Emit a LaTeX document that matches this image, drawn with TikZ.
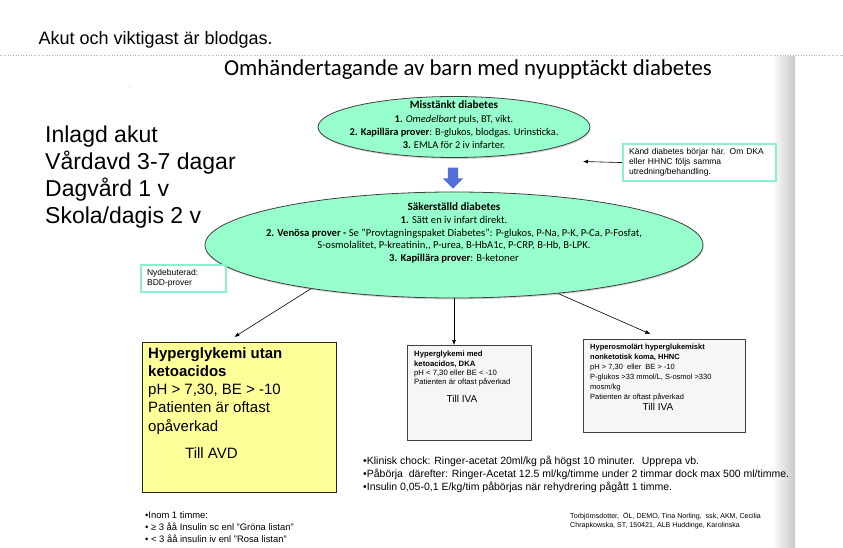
\documentclass[tikz,border=0pt]{standalone}
\usepackage{fontspec}
\setmainfont{Liberation Sans}
\newfontfamily\slidefont{Carlito}
\usetikzlibrary{shapes.geometric,shapes.arrows,arrows.meta,shadows}
\definecolor{mint}{RGB}{150,255,204}
\definecolor{mintline}{RGB}{140,240,200}
\definecolor{padyellow}{RGB}{255,255,153}
\definecolor{arrowblue}{RGB}{84,112,216}

\begin{document}
\begin{tikzpicture}[x=1pt,y=-1pt,
  oval/.style={ellipse,draw=black!75,fill=mint,line width=0.8pt,inner sep=0pt,
    drop shadow={opacity=0.35,shadow xshift=0.6pt,shadow yshift=-1.4pt}},
  notebox/.style={draw=mintline,line width=2.2pt,inner xsep=6pt,inner ysep=4.5pt,align=left,anchor=north west},
  casebox/.style={draw=black!75,fill=gray!7,line width=0.7pt,anchor=north west,inner sep=0pt},
  txt/.style={anchor=north west,align=left,inner sep=0pt},
  conn/.style={-{Latex[length=5pt,width=4pt]},line width=0.6pt}]
  \useasboundingbox (0,0) rectangle (843,548);
  \shade[left color=white,right color=black!22] (772,57) rectangle (795,548);
  \draw[gray!60,dotted,line width=0.6pt] (0,55) -- (843,55);
  \fill[gray] (130,87) circle (0.5);

  \node[anchor=west,font=\fontsize{18}{21}\selectfont] (intro) at (35,40) {Akut och viktigast är blodgas.};
  \node[font=\slidefont\fontsize{22.8}{26}\selectfont] (title) at (468,70) {Omhändertagande av barn med nyupptäckt diabetes};

  % vardtider
  \node[txt,font=\fontsize{23}{27}\selectfont] (stay) at (45,126)
    {Inlagd akut\\ Vårdavd 3-7 dagar\\ Dagvård 1 v\\ Skola/dagis 2 v};

  % misstankt och sakerstalld
  \node[oval,minimum width=272pt,minimum height=61pt] (suspected) at (454,127) {};
  \node[align=center,font=\slidefont\fontsize{10.4}{13.3}\selectfont] (suspectedtxt) at (454,125)
    {{\bfseries\fontsize{11.2}{13.3}\selectfont Misstänkt diabetes}\\
     \textbf{1.} \textit{Omedelbart} puls, BT, vikt.\\
     \textbf{2. Kapillära prover}: B-glukos, blodgas. Urinsticka.\\
     \textbf{3.} EMLA för 2 iv infarter.};
  \node[single arrow,fill=arrowblue,inner sep=5pt,single arrow head extend=5pt,
    minimum height=21pt,shape border rotate=270] (down) at (453,175.5) {};
  \node[oval,minimum width=498pt,minimum height=106pt] (confirmed) at (454,245) {};
  \node[align=center,font=\slidefont\fontsize{10.6}{12.6}\selectfont] (confirmedtxt) at (454,233)
    {{\bfseries\fontsize{11.2}{12.6}\selectfont Säkerställd diabetes}\\
     \textbf{1.} Sätt en iv infart direkt.\\
     \textbf{2. Venösa prover -} Se ”Provtagningspaket Diabetes”: P-glukos, P-Na, P-K, P-Ca, P-Fosfat,\\
     S-osmolalitet, P-kreatinin,, P-urea, B-HbA1c, P-CRP, B-Hb, B-LPK.\\
     \textbf{3. Kapillära prover}: B-ketoner};

  \node[notebox,text width=141pt,font=\fontsize{8.5}{10}\selectfont] (known) at (622,143)
    {Känd diabetes börjar här. Om DKA\\ eller HHNC följs samma\\ utredning/behandling.};
  \coordinate (knowntip) at (583,161.5);
  \draw[conn] (known.west) -- (knowntip);
  \node[notebox,text width=73pt,font=\fontsize{8.5}{10}\selectfont] (bdd) at (140,264)
    {Nydebuterad:\\ BDD-prover};

  % tre utfall
  \node[casebox,draw=black!85,fill=padyellow,minimum width=194pt,minimum height=150pt] (hyper) at (142,342) {};
  \node[txt,font=\fontsize{15}{18.3}\selectfont] (hypertxt) at (148,347)
    {\textbf{Hyperglykemi utan}\\ \textbf{ketoacidos}\\ pH > 7,30, BE > -10\\ Patienten är oftast\\ opåverkad\\[9pt]
     \hspace{37pt}Till AVD};
  \node[casebox,minimum width=124pt,minimum height=95pt] (dka) at (407,345) {};
  \node[txt,font=\fontsize{7.7}{9.3}\selectfont] (dkatxt) at (414,351)
    {\textbf{Hyperglykemi med}\\ \textbf{ketoacidos, DKA}\\ pH < 7,30 eller BE < -10\\ Patienten är oftast påverkad};
  \node[font=\fontsize{10}{12}\selectfont] (dkaiva) at (462,399) {Till IVA};
  \node[casebox,minimum width=162pt,minimum height=93pt] (hhnc) at (583,339) {};
  \node[txt,font=\fontsize{7.5}{10}\selectfont] (hhnctxt) at (590,344)
    {\textbf{Hyperosmolärt hyperglukemiskt}\\ \textbf{nonketotisk koma, HHNC}\\ pH > 7,30~ eller~ BE > -10\\
     P-glukos >33 mmol/L, S-osmol >330\\ mosm/kg\\ Patienten är oftast påverkad};
  \node[font=\fontsize{10}{12}\selectfont] (hhnciva) at (658,407) {Till IVA};

  \draw[conn] (confirmed.197) -- ([xshift=-5pt,yshift=5pt]hyper.north);
  \draw[conn] (confirmed.south) -- (confirmed.south |- dka.north);
  \draw[conn] (confirmed.-25) -- ([xshift=-14pt,yshift=5pt]hhnc.north);

  % behandling
  \node[txt,font=\fontsize{10.5}{13}\selectfont] (fluids) at (363,456)
    {•Klinisk chock: Ringer-acetat 20ml/kg på högst 10 minuter.~ Upprepa vb.\\
     •Påbörja~ därefter: Ringer-Acetat 12.5 ml/kg/timme under 2 timmar dock max 500 ml/timme.\\
     •Insulin 0,05-0,1 E/kg/tim påbörjas när rehydrering pågått 1 timme.};
  \node[txt,font=\fontsize{9.4}{12}\selectfont] (insulin) at (145,511)
    {•Inom 1 timme:\\ • ≥ 3 åå Insulin sc enl "Gröna listan"\\ • < 3 åå insulin iv enl "Rosa listan"};
  \node[txt,font=\fontsize{7.1}{9.5}\selectfont] (credit) at (570,512)
    {Torbjörnsdotter,~ ÖL, DEMO, Tina Norling,~ ssk, AKM, Cecilia\\ Chrapkowska, ST, 150421, ALB Huddinge, Karolinska};
\end{tikzpicture}
\end{document}
